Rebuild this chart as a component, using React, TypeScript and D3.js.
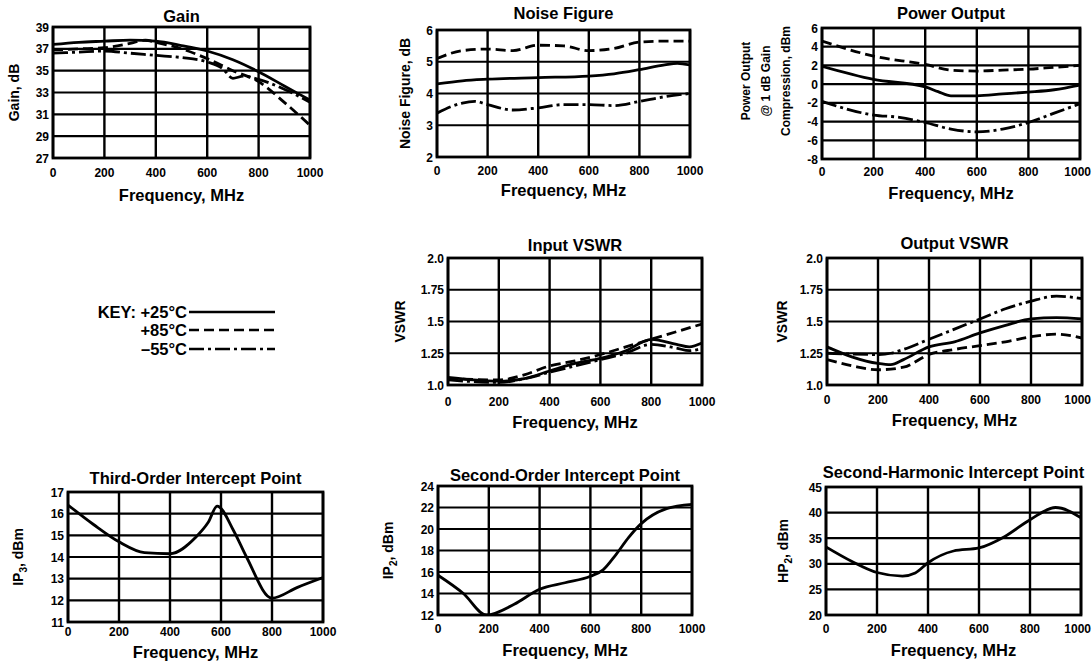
import React from 'react';
import * as d3 from 'd3';

const FREQ_TICKS = [0, 200, 400, 600, 800, 1000];

// ---- Gain ----
const gainTicks = [27, 29, 31, 33, 35, 37, 39];
const gainFreq25 = [0, 100, 200, 300, 400, 500, 600, 700, 800, 900, 1000];
const gain25 = [37.4, 37.6, 37.7, 37.8, 37.7, 37.3, 36.8, 36.0, 34.9, 33.6, 32.3];
const gainFreq85 = [0, 100, 200, 300, 360, 400, 500, 600, 700, 800, 900, 1000];
const gain85 = [36.9, 37.0, 37.1, 37.5, 37.8, 37.6, 37.0, 36.1, 35.0, 34.0, 32.1, 30.0];
const gainFreqM55 = [0, 100, 200, 300, 400, 500, 600, 660, 700, 740, 800, 900, 1000];
const gainM55 = [36.6, 36.7, 36.8, 36.6, 36.4, 36.2, 35.8, 35.2, 34.3, 34.5, 34.2, 33.3, 32.1];

// ---- Noise Figure ----
const nfTicks = [2, 3, 4, 5, 6];
const nfFreq25 = [0, 100, 200, 400, 600, 700, 800, 900, 950, 1000];
const nf25 = [4.3, 4.4, 4.45, 4.5, 4.55, 4.62, 4.75, 4.9, 4.95, 4.9];
const nfFreq85 = [0, 100, 200, 300, 400, 500, 600, 700, 800, 900, 1000];
const nf85 = [5.1, 5.35, 5.4, 5.35, 5.52, 5.5, 5.35, 5.42, 5.62, 5.65, 5.65];
const nfFreqM55 = [0, 100, 150, 200, 300, 400, 500, 600, 700, 800, 900, 1000];
const nfM55 = [3.38, 3.7, 3.75, 3.65, 3.48, 3.55, 3.65, 3.65, 3.62, 3.75, 3.9, 4.0];

// ---- Power Output ----
const poTicks = [-8, -6, -4, -2, 0, 2, 4, 6];
const poFreq25 = [0, 200, 400, 450, 500, 600, 700, 800, 900, 1000];
const po25 = [1.9, 0.5, -0.3, -0.8, -1.25, -1.25, -1.05, -0.85, -0.6, -0.1];
const poFreq85 = [0, 200, 400, 500, 600, 700, 800, 900, 1000];
const po85 = [4.6, 3.0, 2.1, 1.5, 1.4, 1.5, 1.6, 1.8, 2.0];
const poFreqM55 = [0, 200, 300, 400, 500, 600, 700, 800, 900, 1000];
const poM55 = [-1.85, -3.3, -3.55, -4.1, -4.8, -5.1, -4.8, -4.1, -3.1, -2.1];

// ---- Input VSWR ----
const vswrTicks = [1.0, 1.25, 1.5, 1.75, 2.0];
const vswrTickLabels = ['1.0', '1.25', '1.5', '1.75', '2.0'];
const inFreq25 = [0, 100, 200, 300, 400, 500, 600, 700, 800, 900, 950, 1000];
const in25 = [1.06, 1.04, 1.03, 1.05, 1.11, 1.17, 1.21, 1.27, 1.36, 1.32, 1.3, 1.33];
const inFreq85 = [0, 200, 300, 400, 500, 600, 700, 800, 900, 1000];
const in85 = [1.05, 1.04, 1.08, 1.15, 1.19, 1.24, 1.3, 1.36, 1.42, 1.48];
const inFreqM55 = [0, 200, 300, 400, 500, 600, 700, 800, 900, 950, 1000];
const inM55 = [1.04, 1.02, 1.05, 1.1, 1.15, 1.2, 1.25, 1.32, 1.29, 1.27, 1.29];

// ---- Output VSWR ----
const outFreq25 = [0, 100, 200, 250, 300, 400, 500, 600, 700, 800, 900, 1000];
const out25 = [1.3, 1.22, 1.17, 1.16, 1.2, 1.3, 1.34, 1.41, 1.47, 1.52, 1.53, 1.52];
const outFreq85 = [0, 100, 200, 300, 400, 500, 600, 700, 800, 900, 1000];
const out85 = [1.2, 1.15, 1.12, 1.14, 1.24, 1.28, 1.31, 1.34, 1.38, 1.4, 1.37];
const outFreqM55 = [0, 200, 250, 300, 400, 500, 600, 700, 800, 900, 1000];
const outM55 = [1.25, 1.24, 1.25, 1.28, 1.36, 1.44, 1.52, 1.6, 1.66, 1.7, 1.68];

// ---- Third-Order Intercept ----
const ip3Ticks = [11, 12, 13, 14, 15, 16, 17];
const ip3Freq = [0, 100, 200, 300, 400, 500, 550, 585, 650, 700, 800, 900, 1000];
const ip3 = [16.4, 15.5, 14.7, 14.2, 14.15, 14.9, 15.6, 16.35, 15.2, 14.0, 12.1, 12.6, 13.05];

// ---- Second-Order Intercept ----
const ip2Ticks = [12, 14, 16, 18, 20, 22, 24];
const ip2Freq = [0, 100, 190, 300, 400, 500, 600, 650, 700, 750, 800, 900, 1000];
const ip2 = [15.7, 14.0, 12.0, 13.0, 14.4, 15.0, 15.6, 16.2, 17.6, 19.2, 20.5, 21.9, 22.3];

// ---- Second-Harmonic Intercept ----
const hp2Ticks = [20, 25, 30, 35, 40, 45];
const hp2Freq = [0, 100, 200, 300, 350, 400, 500, 600, 700, 800, 900, 1000];
const hp2 = [33.3, 30.5, 28.3, 27.6, 28.2, 30.2, 32.5, 33.1, 35.3, 38.6, 41.0, 39.0];

type Style = 'solid' | 'dash' | 'dashdot';
type Series = { f: number[]; v: number[]; style: Style };
type PanelCfg = {
  id: string;
  title: string;
  x0: number; x1: number; y0: number; y1: number;
  domain: [number, number];
  yTicks: number[];
  yLabels?: string[];
  titleY: number; tickY: number; xTitleY: number;
  yTitleX: number;
  yTitle: React.ReactNode;
  series: Series[];
};

const FONT = "'Liberation Sans', Arial, Helvetica, sans-serif";
const DASH: Record<Style, string | undefined> = {
  solid: undefined,
  dash: '10,5',
  dashdot: '15,4,3,4',
};

const panels: PanelCfg[] = [
  {
    id: 'gain', title: 'Gain', x0: 53, x1: 310, y0: 27, y1: 158,
    domain: [27, 39], yTicks: gainTicks, titleY: 22, tickY: 177, xTitleY: 201, yTitleX: 19,
    yTitle: 'Gain, dB',
    series: [
      { f: gainFreq25, v: gain25, style: 'solid' },
      { f: gainFreq85, v: gain85, style: 'dash' },
      { f: gainFreqM55, v: gainM55, style: 'dashdot' },
    ],
  },
  {
    id: 'nf', title: 'Noise Figure', x0: 437, x1: 690, y0: 30, y1: 157,
    domain: [2, 6], yTicks: nfTicks, titleY: 19, tickY: 175, xTitleY: 196, yTitleX: 410,
    yTitle: 'Noise Figure, dB',
    series: [
      { f: nfFreq25, v: nf25, style: 'solid' },
      { f: nfFreq85, v: nf85, style: 'dash' },
      { f: nfFreqM55, v: nfM55, style: 'dashdot' },
    ],
  },
  {
    id: 'po', title: 'Power Output', x0: 822, x1: 1080, y0: 28, y1: 159,
    domain: [-8, 6], yTicks: poTicks, titleY: 19, tickY: 176, xTitleY: 199, yTitleX: 0,
    yTitle: null,
    series: [
      { f: poFreq25, v: po25, style: 'solid' },
      { f: poFreq85, v: po85, style: 'dash' },
      { f: poFreqM55, v: poM55, style: 'dashdot' },
    ],
  },
  {
    id: 'in', title: 'Input VSWR', x0: 448, x1: 702, y0: 258, y1: 385,
    domain: [1, 2], yTicks: vswrTicks, yLabels: vswrTickLabels, titleY: 251, tickY: 406, xTitleY: 428, yTitleX: 405,
    yTitle: 'VSWR',
    series: [
      { f: inFreq25, v: in25, style: 'solid' },
      { f: inFreq85, v: in85, style: 'dash' },
      { f: inFreqM55, v: inM55, style: 'dashdot' },
    ],
  },
  {
    id: 'out', title: 'Output VSWR', x0: 827, x1: 1082, y0: 258, y1: 385,
    domain: [1, 2], yTicks: vswrTicks, yLabels: vswrTickLabels, titleY: 249, tickY: 404, xTitleY: 426, yTitleX: 787,
    yTitle: 'VSWR',
    series: [
      { f: outFreq25, v: out25, style: 'solid' },
      { f: outFreq85, v: out85, style: 'dash' },
      { f: outFreqM55, v: outM55, style: 'dashdot' },
    ],
  },
  {
    id: 'ip3', title: 'Third-Order Intercept Point', x0: 68, x1: 323, y0: 492, y1: 622,
    domain: [11, 17], yTicks: ip3Ticks, titleY: 484, tickY: 636, xTitleY: 658, yTitleX: 23,
    yTitle: 'IP3',
    series: [{ f: ip3Freq, v: ip3, style: 'solid' }],
  },
  {
    id: 'ip2', title: 'Second-Order Intercept Point', x0: 438, x1: 692, y0: 486, y1: 615,
    domain: [12, 24], yTicks: ip2Ticks, titleY: 481, tickY: 633, xTitleY: 656, yTitleX: 393,
    yTitle: 'IP2',
    series: [{ f: ip2Freq, v: ip2, style: 'solid' }],
  },
  {
    id: 'hp2', title: 'Second-Harmonic Intercept Point', x0: 826, x1: 1081, y0: 487, y1: 615,
    domain: [20, 45], yTicks: hp2Ticks, titleY: 478, tickY: 633, xTitleY: 656, yTitleX: 788,
    yTitle: 'HP2',
    series: [{ f: hp2Freq, v: hp2, style: 'solid' }],
  },
];

function YTitle({ p }: { p: PanelCfg }) {
  const cy = (p.y0 + p.y1) / 2;
  const common = {
    transform: `translate(${p.yTitleX},${cy}) rotate(-90)`,
    textAnchor: 'middle' as const,
    fontFamily: FONT,
    fontWeight: 700,
    fontSize: 14,
  };
  if (p.id === 'po') {
    const lines = ['Power Output', '@ 1 dB Gain', 'Compression, dBm'];
    const xs = [750, 770, 790];
    return (
      <g>
        {lines.map((l, i) => (
          <text key={l} transform={`translate(${xs[i]},${81}) rotate(-90)`} textAnchor="middle"
            fontFamily={FONT} fontWeight={700} fontSize={12}>{l}</text>
        ))}
      </g>
    );
  }
  if (p.yTitle === 'IP3' || p.yTitle === 'IP2' || p.yTitle === 'HP2') {
    const s = p.yTitle as string;
    return (
      <text {...common}>
        {s.slice(0, -1)}
        <tspan dy={4} fontSize={10}>{s.slice(-1)}</tspan>
        <tspan dy={-4}>, dBm</tspan>
      </text>
    );
  }
  return <text {...common}>{p.yTitle}</text>;
}

function Panel({ p }: { p: PanelCfg }) {
  const x = d3.scaleLinear().domain([0, 1000]).range([p.x0, p.x1]);
  const y = d3.scaleLinear().domain(p.domain).range([p.y1, p.y0]);
  const line = d3
    .line<[number, number]>()
    .x((d) => x(d[0]))
    .y((d) => y(d[1]))
    .curve(d3.curveMonotoneX);
  const cx = (p.x0 + p.x1) / 2;
  return (
    <g>
      <defs>
        <clipPath id={`clip-${p.id}`}>
          <rect x={p.x0} y={p.y0} width={p.x1 - p.x0} height={p.y1 - p.y0} />
        </clipPath>
      </defs>
      <text x={cx} y={p.titleY} textAnchor="middle" fontFamily={FONT} fontWeight={700} fontSize={16.5}>
        {p.title}
      </text>
      {p.yTicks.map((t) => (
        <line key={'gy' + t} x1={p.x0} x2={p.x1} y1={y(t)} y2={y(t)} stroke="#000" strokeWidth={2.2} />
      ))}
      {FREQ_TICKS.map((t) => (
        <line key={'gx' + t} x1={x(t)} x2={x(t)} y1={p.y0} y2={p.y1} stroke="#000" strokeWidth={2.4} />
      ))}
      <rect x={p.x0} y={p.y0} width={p.x1 - p.x0} height={p.y1 - p.y0} fill="none" stroke="#000" strokeWidth={2.8} />
      <g clipPath={`url(#clip-${p.id})`}>
        {p.series.map((s, i) => (
          <path
            key={i}
            d={line(s.f.map((f, k) => [f, s.v[k]] as [number, number])) || ''}
            fill="none"
            stroke="#000"
            strokeWidth={2.8}
            strokeDasharray={DASH[s.style]}
            strokeLinecap="butt"
          />
        ))}
      </g>
      {p.yTicks.map((t, i) => (
        <text key={'ly' + t} x={p.x0 - 4} y={y(t) + 4.5} textAnchor="end" fontFamily={FONT} fontWeight={700} fontSize={12}>
          {p.yLabels ? p.yLabels[i] : String(t)}
        </text>
      ))}
      {FREQ_TICKS.map((t) => {
        const px = x(t);
        const nearEdge = px + 14 > 1092;
        return (
          <text key={'lx' + t} x={nearEdge ? 1091 : px} y={p.tickY} textAnchor={nearEdge ? 'end' : 'middle'}
            fontFamily={FONT} fontWeight={700} fontSize={12}>
            {t}
          </text>
        );
      })}
      <text x={cx} y={p.xTitleY} textAnchor="middle" fontFamily={FONT} fontWeight={700} fontSize={16.5}>
        Frequency, MHz
      </text>
      <YTitle p={p} />
    </g>
  );
}

const keyLabels = ['KEY: +25°C', '+85°C', '\u201355°C'];
const keyStyles: Style[] = ['solid', 'dash', 'dashdot'];

function Key() {
  const ys = [312, 330, 349];
  return (
    <g>
      {keyLabels.map((l, i) => (
        <g key={l}>
          <text x={187} y={ys[i] + 6} textAnchor="end" fontFamily={FONT} fontWeight={700} fontSize={16.5}>{l}</text>
          <line x1={189} x2={275} y1={ys[i]} y2={ys[i]} stroke="#000" strokeWidth={2.6}
            strokeDasharray={DASH[keyStyles[i]]} />
        </g>
      ))}
    </g>
  );
}

export default function App() {
  return (
    <svg width={1092} height={663} style={{ position: 'absolute', left: 0, top: 0, background: '#fff' }}>
      <rect x={0} y={0} width={1092} height={663} fill="#fff" />
      {panels.map((p) => (
        <Panel key={p.id} p={p} />
      ))}
      <Key />
    </svg>
  );
}
